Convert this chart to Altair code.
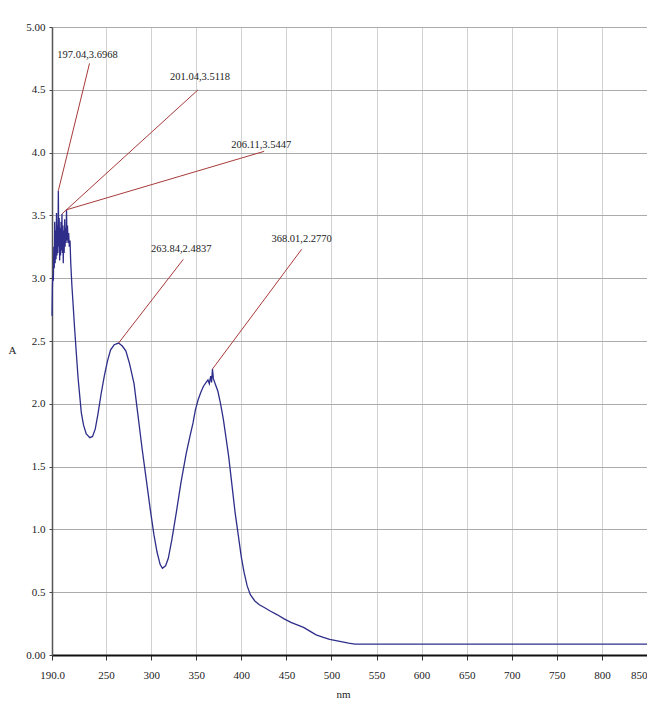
import altair as alt
import pandas as pd

# ---- spectrum data ----
wavelength = [
    190.0, 190.5, 191.0, 191.5, 192.0, 192.5, 193.0, 193.5, 194.0, 194.5,
    195.0, 195.5, 196.0, 196.5, 197.04, 197.5, 198.0, 198.5, 199.0, 199.5,
    200.0, 200.5, 201.04, 201.5, 202.0, 202.5, 203.0, 203.5, 204.0, 204.5,
    205.0, 205.5, 206.11, 206.6, 207.2, 207.8, 208.5, 209.2, 210.0, 210.8,
    212.0, 213.5, 215.0, 217.0, 219.0, 222.5, 225.0, 228.0, 232.0, 235.0,
    238.0, 241.0, 244.5, 248.0, 251.5, 255.0, 259.0, 263.84, 268.0, 272.0,
    276.0, 281.0, 285.0, 290.0, 294.5, 299.0, 303.0, 306.5, 310.0, 312.5,
    316.0, 319.0, 323.0, 328.0, 333.0, 339.0, 343.0, 346.5, 349.0, 352.0,
    355.0, 358.0, 361.0, 363.0, 364.5, 366.0, 367.0, 368.01, 369.0, 371.0,
    374.0, 377.0, 380.0, 383.0, 386.0, 389.5, 393.0, 396.5, 400.0, 403.0,
    406.5, 410.0, 415.0, 420.0, 425.0, 432.0, 440.0, 447.0, 455.0, 462.0,
    469.0, 476.0, 483.0, 491.0, 498.0, 505.0, 512.0, 519.0, 526.0, 540.0,
    850.0,
]
absorbance = [
    2.70, 2.95, 3.02, 2.98, 3.25, 3.08, 3.45, 3.12, 3.38, 3.15,
    3.52, 3.18, 3.42, 3.20, 3.6968, 3.25, 3.48, 3.14, 3.40, 3.18,
    3.45, 3.22, 3.5118, 3.20, 3.42, 3.12, 3.38, 3.20, 3.47, 3.25,
    3.40, 3.28, 3.5447, 3.30, 3.42, 3.28, 3.36, 3.25, 3.30, 3.12,
    2.95, 2.78, 2.61, 2.40, 2.20, 1.93, 1.83, 1.76, 1.73, 1.74,
    1.80, 1.92, 2.08, 2.22, 2.34, 2.43, 2.47, 2.4837, 2.46, 2.42,
    2.32, 2.16, 1.93, 1.64, 1.40, 1.16, 0.96, 0.82, 0.72, 0.69,
    0.71, 0.77, 0.92, 1.14, 1.37, 1.61, 1.74, 1.85, 1.95, 2.03,
    2.09, 2.14, 2.17, 2.19, 2.16, 2.22, 2.17, 2.2770, 2.20, 2.16,
    2.10, 2.00, 1.88, 1.73, 1.58, 1.36, 1.14, 0.96, 0.78, 0.66,
    0.55, 0.48, 0.43, 0.40, 0.38, 0.35, 0.32, 0.29, 0.26, 0.24,
    0.22, 0.19, 0.16, 0.14, 0.125, 0.115, 0.105, 0.095, 0.087, 0.086,
    0.086,
]

# ---- peak annotations ----
peak_nm = [197.04, 201.04, 206.11, 263.84, 368.01]
peak_abs = [3.6968, 3.5118, 3.5447, 2.4837, 2.2770]
label_nm = [229.4, 354.2, 422.0, 333.4, 466.9]
label_abs = [4.78, 4.60, 4.06, 3.23, 3.31]
leader_nm = [231.6, 352.0, 425.3, 335.6, 466.9]
leader_abs = [4.71, 4.50, 4.01, 3.15, 3.23]

x_ticks = [190, 250, 300, 350, 400, 450, 500, 550, 600, 650, 700, 750, 800, 850]
y_ticks = [0, 0.5, 1.0, 1.5, 2.0, 2.5, 3.0, 3.5, 4.0, 4.5, 5.0]

FONT = "Liberation Serif"

spec_df = pd.DataFrame({"nm": wavelength, "A": absorbance})
lead_df = pd.DataFrame({
    "nm": peak_nm, "A": peak_abs, "nm2": leader_nm, "A2": leader_abs,
})
lab_df = pd.DataFrame({
    "nm": label_nm,
    "A": label_abs,
    "txt": [f"{a:.2f},{b:.4f}" for a, b in zip(peak_nm, peak_abs)],
})

x_scale = alt.Scale(domain=[190, 850], nice=False, zero=False)
y_scale = alt.Scale(domain=[0, 5], nice=False, zero=False)

x_axis = alt.Axis(
    values=x_ticks,
    title="nm",
    labelExpr="datum.value == 190 ? '190.0' : format(datum.value, 'd')",
    labelAlign=alt.ExprRef(expr="datum.value == 850 ? 'right' : 'center'"),
    labelFlush=False,
    labelOverlap=False,
    labelFont=FONT,
    labelFontSize=11,
    labelColor="#222222",
    labelPadding=9,
    tickSize=5,
    tickColor="#333333",
    domainColor="#111111",
    domainWidth=2,
    gridColor="#d2d2d2",
    gridWidth=1,
    titleFont=FONT,
    titleFontSize=11,
    titleFontWeight="normal",
    titleColor="#222222",
    titleX=291,
    titleY=39,
    titleBaseline="middle",
)
y_axis = alt.Axis(
    values=y_ticks,
    title="A",
    labelExpr="datum.value == 0 ? '0.00' : (datum.value == 5 ? '5.00' : format(datum.value, '.1f'))",
    labelFlush=False,
    labelOverlap=False,
    labelFont=FONT,
    labelFontSize=11,
    labelColor="#222222",
    labelPadding=4,
    tickSize=3,
    tickColor="#444444",
    domainColor="#555555",
    domainWidth=1.5,
    gridColor="#ababab",
    gridWidth=1,
    titleFont=FONT,
    titleFontSize=11,
    titleFontWeight="normal",
    titleColor="#222222",
    titleAngle=0,
    titleX=-40,
    titleY=323,
    titleAlign="center",
    titleBaseline="middle",
)

line = alt.Chart(spec_df).mark_line(color="#2e2e8a", strokeWidth=1.3).encode(
    x=alt.X("nm:Q", scale=x_scale, axis=x_axis),
    y=alt.Y("A:Q", scale=y_scale, axis=y_axis),
)

leaders = alt.Chart(lead_df).mark_rule(color="#a83a3a", strokeWidth=1).encode(
    x=alt.X("nm:Q", scale=x_scale, axis=x_axis),
    y=alt.Y("A:Q", scale=y_scale, axis=y_axis),
    x2="nm2:Q",
    y2="A2:Q",
)

labels = alt.Chart(lab_df).mark_text(
    font=FONT, fontSize=10.5, color="#222222", align="center", baseline="middle"
).encode(
    x=alt.X("nm:Q", scale=x_scale, axis=x_axis),
    y=alt.Y("A:Q", scale=y_scale, axis=y_axis),
    text="txt:N",
)

chart = (
    alt.layer(line, leaders, labels)
    .properties(
        width=595,
        height=628,
        autosize=alt.AutoSizeParams(type="none"),
        padding={"left": 44, "top": 19, "right": 0, "bottom": 44},
        background="white",
    )
    .configure_view(stroke=None)
    .configure_axis(labelFont=FONT, titleFont=FONT)
)

chart.save("out.html", embed_options={"renderer": "svg", "actions": False})
